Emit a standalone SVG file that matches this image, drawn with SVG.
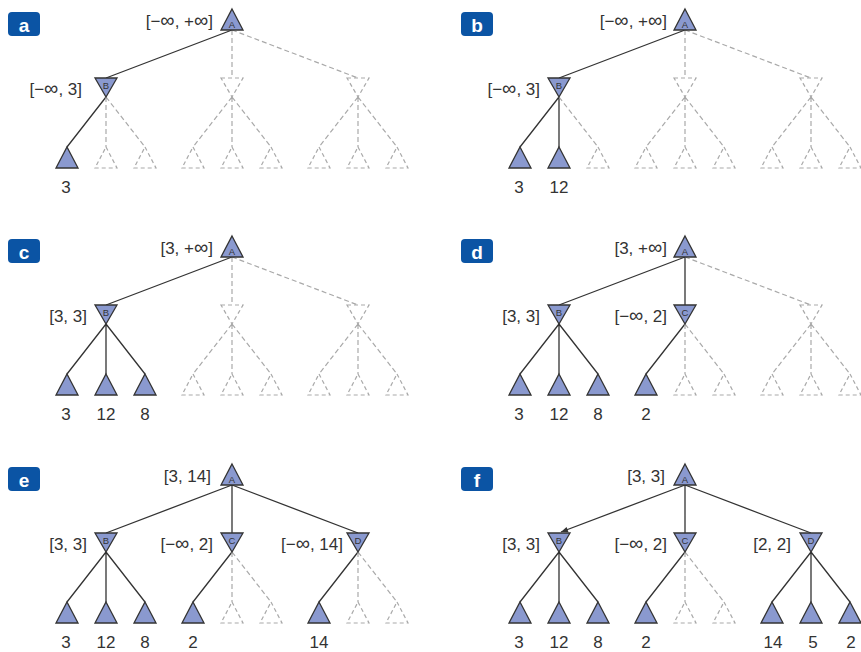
<svg xmlns="http://www.w3.org/2000/svg" xmlns:xlink="http://www.w3.org/1999/xlink" width="861" height="652" viewBox="0 0 861 652">
<style>
.s{stroke:#333;stroke-width:1.3;fill:none}
.d{stroke:#a9a9a9;stroke-width:1.2;stroke-dasharray:5 3;fill:none}
.n{fill:#8a99cf;stroke:#333;stroke-width:1.3;stroke-linejoin:miter}
.nd{fill:none;stroke:#a9a9a9;stroke-width:1.2;stroke-dasharray:4 3}
.lbl{font-family:"Liberation Sans",Arial,sans-serif;font-size:17px;fill:#333;text-anchor:end}
.inf{font-size:20px}
.val{font-family:"Liberation Sans",Arial,sans-serif;font-size:17px;fill:#333;text-anchor:middle}
.ltr{font-family:"Liberation Sans",Arial,sans-serif;font-size:9.5px;fill:#333;text-anchor:middle}
.badge{fill:#0b54a4}
.bt{font-family:"Liberation Sans",Arial,sans-serif;font-size:19px;font-weight:bold;fill:#fff;text-anchor:middle}
</style>
<defs>
<path id="up" d="M0,0 L11,21 L-11,21 Z"/>
<path id="down" d="M-11,0 L11,0 L0,19 Z"/>
<marker id="arr" viewBox="0 0 10 10" refX="10" refY="5" markerWidth="8" markerHeight="7" markerUnits="userSpaceOnUse" orient="auto"><path d="M0,1 L10,5 L0,9 Z" fill="#333"/></marker>
</defs>

<!-- Panel a -->
<g id="panel-a">
<g id="a-connectors">
<path class="s" d="M232,30L106,78M106,97L67,147"/>
<path class="d" d="M232,30L232,78M232,30L358,78M106,97L106,147M106,97L145,147M232,97L193,147M232,97L232,147M232,97L271,147M358,97L319,147M358,97L358,147M358,97L397,147"/>
</g>
<g id="a-badge"><rect class="badge" x="8" y="12" width="32" height="24" rx="4"/><text class="bt" x="24" y="32">a</text></g>
<g id="a-A"><use href="#up" x="232" y="9" class="n"/><text class="ltr" x="232" y="27.5">A</text><text class="lbl" x="213" y="27">[−<tspan class="inf">∞</tspan>, +<tspan class="inf">∞</tspan>]</text></g>
<g id="a-B"><use href="#down" x="106" y="78" class="n"/><text class="ltr" x="106" y="89">B</text><text class="lbl" x="82" y="95">[−<tspan class="inf">∞</tspan>, 3]</text></g>
<g id="a-C"><use href="#down" x="232" y="78" class="nd"/></g>
<g id="a-D"><use href="#down" x="358" y="78" class="nd"/></g>
<g id="a-L1"><use href="#up" x="67" y="147" class="n"/><text class="val" x="66" y="193">3</text></g>
<g id="a-L2"><use href="#up" x="106" y="147" class="nd"/></g>
<g id="a-L3"><use href="#up" x="145" y="147" class="nd"/></g>
<g id="a-L4"><use href="#up" x="193" y="147" class="nd"/></g>
<g id="a-L5"><use href="#up" x="232" y="147" class="nd"/></g>
<g id="a-L6"><use href="#up" x="271" y="147" class="nd"/></g>
<g id="a-L7"><use href="#up" x="319" y="147" class="nd"/></g>
<g id="a-L8"><use href="#up" x="358" y="147" class="nd"/></g>
<g id="a-L9"><use href="#up" x="397" y="147" class="nd"/></g>
</g>

<!-- Panel b -->
<g id="panel-b" transform="translate(453,0)">
<g id="b-connectors">
<path class="s" d="M232,30L106,78M106,97L67,147M106,97L106,147"/>
<path class="d" d="M232,30L232,78M232,30L358,78M106,97L145,147M232,97L193,147M232,97L232,147M232,97L271,147M358,97L319,147M358,97L358,147M358,97L397,147"/>
</g>
<g id="b-badge"><rect class="badge" x="8" y="12" width="32" height="24" rx="4"/><text class="bt" x="24" y="32">b</text></g>
<g id="b-A"><use href="#up" x="232" y="9" class="n"/><text class="ltr" x="232" y="27.5">A</text><text class="lbl" x="214" y="27">[−<tspan class="inf">∞</tspan>, +<tspan class="inf">∞</tspan>]</text></g>
<g id="b-B"><use href="#down" x="106" y="78" class="n"/><text class="ltr" x="106" y="89">B</text><text class="lbl" x="87" y="95">[−<tspan class="inf">∞</tspan>, 3]</text></g>
<g id="b-C"><use href="#down" x="232" y="78" class="nd"/></g>
<g id="b-D"><use href="#down" x="358" y="78" class="nd"/></g>
<g id="b-L1"><use href="#up" x="67" y="147" class="n"/><text class="val" x="66" y="193">3</text></g>
<g id="b-L2"><use href="#up" x="106" y="147" class="n"/><text class="val" x="106" y="193">12</text></g>
<g id="b-L3"><use href="#up" x="145" y="147" class="nd"/></g>
<g id="b-L4"><use href="#up" x="193" y="147" class="nd"/></g>
<g id="b-L5"><use href="#up" x="232" y="147" class="nd"/></g>
<g id="b-L6"><use href="#up" x="271" y="147" class="nd"/></g>
<g id="b-L7"><use href="#up" x="319" y="147" class="nd"/></g>
<g id="b-L8"><use href="#up" x="358" y="147" class="nd"/></g>
<g id="b-L9"><use href="#up" x="397" y="147" class="nd"/></g>
</g>

<!-- Panel c -->
<g id="panel-c" transform="translate(0,227)">
<g id="c-connectors">
<path class="s" d="M232,30L106,78M106,97L67,147M106,97L106,147M106,97L145,147"/>
<path class="d" d="M232,30L232,78M232,30L358,78M232,97L193,147M232,97L232,147M232,97L271,147M358,97L319,147M358,97L358,147M358,97L397,147"/>
</g>
<g id="c-badge"><rect class="badge" x="8" y="12" width="32" height="24" rx="4"/><text class="bt" x="24" y="32">c</text></g>
<g id="c-A"><use href="#up" x="232" y="9" class="n"/><text class="ltr" x="232" y="27.5">A</text><text class="lbl" x="213" y="27">[3, +<tspan class="inf">∞</tspan>]</text></g>
<g id="c-B"><use href="#down" x="106" y="78" class="n"/><text class="ltr" x="106" y="89">B</text><text class="lbl" x="87" y="95">[3, 3]</text></g>
<g id="c-C"><use href="#down" x="232" y="78" class="nd"/></g>
<g id="c-D"><use href="#down" x="358" y="78" class="nd"/></g>
<g id="c-L1"><use href="#up" x="67" y="147" class="n"/><text class="val" x="66" y="193">3</text></g>
<g id="c-L2"><use href="#up" x="106" y="147" class="n"/><text class="val" x="106" y="193">12</text></g>
<g id="c-L3"><use href="#up" x="145" y="147" class="n"/><text class="val" x="145" y="193">8</text></g>
<g id="c-L4"><use href="#up" x="193" y="147" class="nd"/></g>
<g id="c-L5"><use href="#up" x="232" y="147" class="nd"/></g>
<g id="c-L6"><use href="#up" x="271" y="147" class="nd"/></g>
<g id="c-L7"><use href="#up" x="319" y="147" class="nd"/></g>
<g id="c-L8"><use href="#up" x="358" y="147" class="nd"/></g>
<g id="c-L9"><use href="#up" x="397" y="147" class="nd"/></g>
</g>

<!-- Panel d -->
<g id="panel-d" transform="translate(453,227)">
<g id="d-connectors">
<path class="s" d="M232,30L106,78M232,30L232,78M106,97L67,147M106,97L106,147M106,97L145,147M232,97L193,147"/>
<path class="d" d="M232,30L358,78M232,97L232,147M232,97L271,147M358,97L319,147M358,97L358,147M358,97L397,147"/>
</g>
<g id="d-badge"><rect class="badge" x="8" y="12" width="32" height="24" rx="4"/><text class="bt" x="24" y="32">d</text></g>
<g id="d-A"><use href="#up" x="232" y="9" class="n"/><text class="ltr" x="232" y="27.5">A</text><text class="lbl" x="214" y="27">[3, +<tspan class="inf">∞</tspan>]</text></g>
<g id="d-B"><use href="#down" x="106" y="78" class="n"/><text class="ltr" x="106" y="89">B</text><text class="lbl" x="87" y="95">[3, 3]</text></g>
<g id="d-C"><use href="#down" x="232" y="78" class="n"/><text class="ltr" x="232" y="89">C</text><text class="lbl" x="214" y="95">[−<tspan class="inf">∞</tspan>, 2]</text></g>
<g id="d-D"><use href="#down" x="358" y="78" class="nd"/></g>
<g id="d-L1"><use href="#up" x="67" y="147" class="n"/><text class="val" x="66" y="193">3</text></g>
<g id="d-L2"><use href="#up" x="106" y="147" class="n"/><text class="val" x="106" y="193">12</text></g>
<g id="d-L3"><use href="#up" x="145" y="147" class="n"/><text class="val" x="145" y="193">8</text></g>
<g id="d-L4"><use href="#up" x="193" y="147" class="n"/><text class="val" x="193" y="193">2</text></g>
<g id="d-L5"><use href="#up" x="232" y="147" class="nd"/></g>
<g id="d-L6"><use href="#up" x="271" y="147" class="nd"/></g>
<g id="d-L7"><use href="#up" x="319" y="147" class="nd"/></g>
<g id="d-L8"><use href="#up" x="358" y="147" class="nd"/></g>
<g id="d-L9"><use href="#up" x="397" y="147" class="nd"/></g>
</g>

<!-- Panel e -->
<g id="panel-e" transform="translate(0,455)">
<g id="e-connectors">
<path class="s" d="M232,30L106,78M232,30L232,78M232,30L358,78M106,97L67,147M106,97L106,147M106,97L145,147M232,97L193,147M358,97L319,147"/>
<path class="d" d="M232,97L232,147M232,97L271,147M358,97L358,147M358,97L397,147"/>
</g>
<g id="e-badge"><rect class="badge" x="8" y="12" width="32" height="24" rx="4"/><text class="bt" x="24" y="32">e</text></g>
<g id="e-A"><use href="#up" x="232" y="9" class="n"/><text class="ltr" x="232" y="27.5">A</text><text class="lbl" x="211" y="27">[3, 14]</text></g>
<g id="e-B"><use href="#down" x="106" y="78" class="n"/><text class="ltr" x="106" y="89">B</text><text class="lbl" x="87" y="95">[3, 3]</text></g>
<g id="e-C"><use href="#down" x="232" y="78" class="n"/><text class="ltr" x="232" y="89">C</text><text class="lbl" x="213" y="95">[−<tspan class="inf">∞</tspan>, 2]</text></g>
<g id="e-D"><use href="#down" x="358" y="78" class="n"/><text class="ltr" x="358" y="89">D</text><text class="lbl" x="343" y="95">[−<tspan class="inf">∞</tspan>, 14]</text></g>
<g id="e-L1"><use href="#up" x="67" y="147" class="n"/><text class="val" x="66" y="193">3</text></g>
<g id="e-L2"><use href="#up" x="106" y="147" class="n"/><text class="val" x="106" y="193">12</text></g>
<g id="e-L3"><use href="#up" x="145" y="147" class="n"/><text class="val" x="145" y="193">8</text></g>
<g id="e-L4"><use href="#up" x="193" y="147" class="n"/><text class="val" x="193" y="193">2</text></g>
<g id="e-L5"><use href="#up" x="232" y="147" class="nd"/></g>
<g id="e-L6"><use href="#up" x="271" y="147" class="nd"/></g>
<g id="e-L7"><use href="#up" x="319" y="147" class="n"/><text class="val" x="319" y="193">14</text></g>
<g id="e-L8"><use href="#up" x="358" y="147" class="nd"/></g>
<g id="e-L9"><use href="#up" x="397" y="147" class="nd"/></g>
</g>

<!-- Panel f -->
<g id="panel-f" transform="translate(453,455)">
<g id="f-connectors">
<path class="s" d="M232,30L108,77" marker-end="url(#arr)"/>
<path class="s" d="M232,30L232,78M232,30L358,78M106,97L67,147M106,97L106,147M106,97L145,147M232,97L193,147M358,97L319,147M358,97L358,147M358,97L397,147"/>
<path class="d" d="M232,97L232,147M232,97L271,147"/>
</g>
<g id="f-badge"><rect class="badge" x="8" y="12" width="32" height="24" rx="4"/><text class="bt" x="24" y="32">f</text></g>
<g id="f-A"><use href="#up" x="232" y="9" class="n"/><text class="ltr" x="232" y="27.5">A</text><text class="lbl" x="212" y="27">[3, 3]</text></g>
<g id="f-B"><use href="#down" x="106" y="78" class="n"/><text class="ltr" x="106" y="89">B</text><text class="lbl" x="87" y="95">[3, 3]</text></g>
<g id="f-C"><use href="#down" x="232" y="78" class="n"/><text class="ltr" x="232" y="89">C</text><text class="lbl" x="214" y="95">[−<tspan class="inf">∞</tspan>, 2]</text></g>
<g id="f-D"><use href="#down" x="358" y="78" class="n"/><text class="ltr" x="358" y="89">D</text><text class="lbl" x="338" y="95">[2, 2]</text></g>
<g id="f-L1"><use href="#up" x="67" y="147" class="n"/><text class="val" x="66" y="193">3</text></g>
<g id="f-L2"><use href="#up" x="106" y="147" class="n"/><text class="val" x="106" y="193">12</text></g>
<g id="f-L3"><use href="#up" x="145" y="147" class="n"/><text class="val" x="145" y="193">8</text></g>
<g id="f-L4"><use href="#up" x="193" y="147" class="n"/><text class="val" x="193" y="193">2</text></g>
<g id="f-L5"><use href="#up" x="232" y="147" class="nd"/></g>
<g id="f-L6"><use href="#up" x="271" y="147" class="nd"/></g>
<g id="f-L7"><use href="#up" x="319" y="147" class="n"/><text class="val" x="320" y="193">14</text></g>
<g id="f-L8"><use href="#up" x="358" y="147" class="n"/><text class="val" x="360" y="193">5</text></g>
<g id="f-L9"><use href="#up" x="397" y="147" class="n"/><text class="val" x="398" y="193">2</text></g>
</g>
</svg>
